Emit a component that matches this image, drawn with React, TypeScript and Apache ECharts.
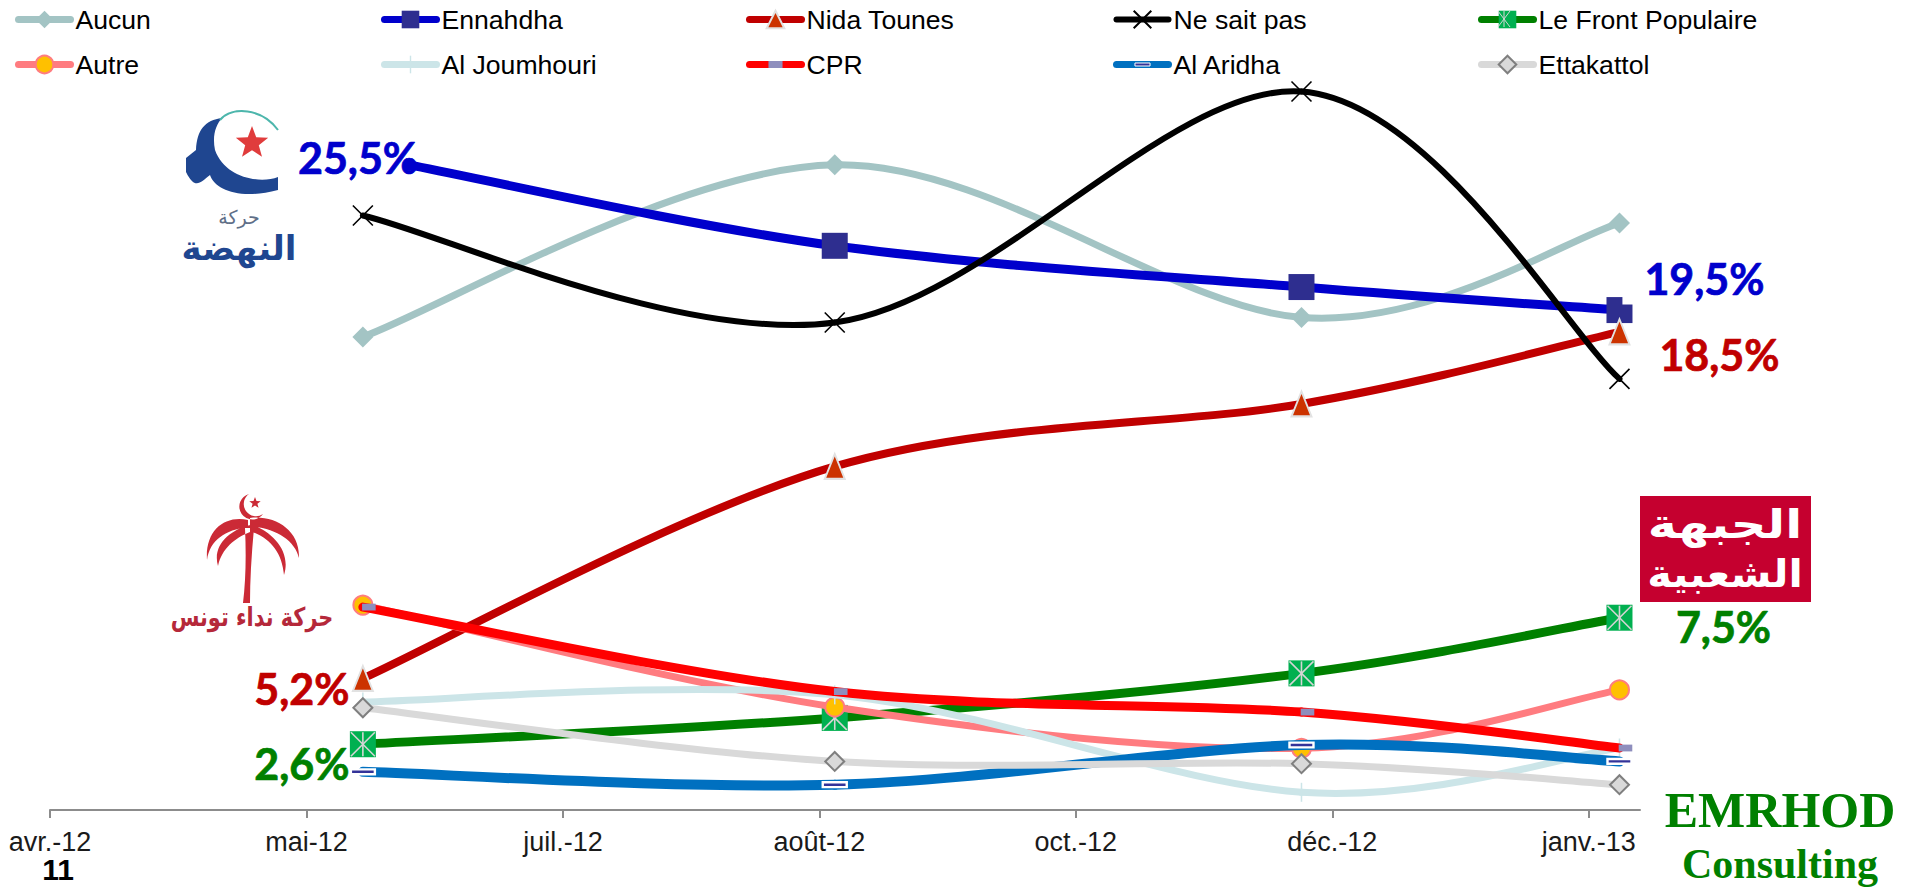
import React, { useEffect, useRef } from "react";
import * as echarts from "echarts";

// x = days since 1 April 2012; the axis ticks are 50 days apart
const tickDays = [0, 50, 100, 150, 200, 250, 300];
const tickLabels = ["avr.-12", "mai-12", "juil.-12", "août-12", "oct.-12", "déc.-12", "janv.-13"];
const surveyDays = [61, 153, 244, 306];
const ennahdhaDays = [70, 153, 244, 306];

const aucun = [18.7, 25.5, 19.47, 23.2];
const ennahdha = [25.5, 22.3, 20.67, 19.76];
const nidaTounes = [5.2, 13.58, 16.05, 18.9];
const neSaitPas = [23.5, 19.27, 28.4, 17.04];
const frontPopulaire = [2.6, 3.64, 5.4, 7.6];
const autre = [8.1, 4.07, 2.44, 4.75];
const alJoumhouri = [4.27, 4.55, 0.7, 2.45];
const cpr = [8.02, 4.68, 3.87, 2.45];
const alAridha = [1.51, 1.0, 2.57, 1.92];
const ettakattol = [4.04, 1.92, 1.83, 1.0];

const ARIAL = "Liberation Sans";
const CALIBRI = "Lato";
const SERIF = "Liberation Serif";
const ARABIC = "DejaVu Sans";

const thinTick = "path://M0 0L0 0M20 20L20 20M9.2 0H10.8V20H9.2Z";
const cprMark = "path://M0 0L0 0M20 20L20 20M2 6H18V14H2Z";
const aridhaMark = "path://M0 0L0 0M28 28L28 28M2 11.6H26V16.4H2Z";
const crossMark = "path://M0 0L20 20M20 0L0 20";

type Def = {
  name: string; days: number[]; vals: number[]; color: string; width: number;
  symbol: string; size: any; item: any; symbolOffset?: number[];
};

const defs: Def[] = [
  { name: "Aucun", days: surveyDays, vals: aucun, color: "#A3C4C4", width: 7, symbol: "diamond", size: 21, item: { color: "#A3C4C4" } },
  { name: "Ennahdha", days: ennahdhaDays, vals: ennahdha, color: "#0000CC", width: 9, symbol: "rect", size: 26, item: { color: "#2E2E8F" } },
  { name: "Nida Tounes", days: surveyDays, vals: nidaTounes, color: "#C00000", width: 8, symbol: "triangle", size: [20, 25], item: { color: "#CC3300", borderColor: "#E2E2E2", borderWidth: 2 } },
  { name: "Ne sait pas", days: surveyDays, vals: neSaitPas, color: "#000000", width: 6, symbol: crossMark, size: 20, item: { color: "none", borderColor: "#000000", borderWidth: 1.6 } },
  { name: "Le Front Populaire", days: surveyDays, vals: frontPopulaire, color: "#008000", width: 9, symbol: "rect", size: 26, item: { color: "#00B050" } },
  { name: "Autre", days: surveyDays, vals: autre, color: "#FF7C80", width: 7, symbol: "circle", size: 19, item: { color: "#FFC000", borderColor: "#FF7C80", borderWidth: 2 } },
  { name: "Al Joumhouri", days: surveyDays, vals: alJoumhouri, color: "#CCE5E8", width: 7, symbol: thinTick, size: 19, item: { color: "#CCE5E8" } },
  { name: "CPR", days: surveyDays, vals: cpr, color: "#FF0000", width: 9, symbol: cprMark, size: 17, item: { color: "#8E8EBD" }, symbolOffset: [6, 0] },
  { name: "Al Aridha", days: surveyDays, vals: alAridha, color: "#0070C0", width: 10, symbol: aridhaMark, size: 28, item: { color: "#333399", borderColor: "#FFFFFF", borderWidth: 2.4 } },
  { name: "Ettakattol", days: surveyDays, vals: ettakattol, color: "#D9D9D9", width: 7, symbol: "diamond", size: 19, item: { color: "#D9D9D9", borderColor: "#7F7F7F", borderWidth: 2 } },
];

// data labels: series, point index, text
const pointLabels: { series: string; index: number; text: string; color: string; offset: number[]; box?: any }[] = [
  { series: "Ennahdha", index: 0, text: "25,5%", color: "#0000CC", offset: [-51, -7] },
  { series: "Ennahdha", index: 3, text: "19,5%", color: "#0000CC", offset: [74, -32], box: { backgroundColor: "#FFFFFF", padding: [0, 0, 10, 22] } },
  { series: "Nida Tounes", index: 0, text: "5,2%", color: "#C00000", offset: [-61, 10] },
  { series: "Nida Tounes", index: 3, text: "18,5%", color: "#C00000", offset: [100, 23] },
  { series: "Le Front Populaire", index: 0, text: "2,6%", color: "#008000", offset: [-61, 19] },
  { series: "Le Front Populaire", index: 3, text: "7,5%", color: "#008000", offset: [104, 9] },
];

const legendColumns = [
  { left: 15, names: ["Aucun", "Autre"] },
  { left: 381, names: ["Ennahdha", "Al Joumhouri"] },
  { left: 746, names: ["Nida Tounes", "CPR"] },
  { left: 1113, names: ["Ne sait pas", "Al Aridha"] },
  { left: 1478, names: ["Le Front Populaire", "Ettakattol"] },
];

const ennahdhaCrescent =
  "M222 118C205 120 197 130 196 150L186 158L186 172C195 190 200 183 210 175C215 190 240 200 278 190L278 177C260 184 225 178 215 150C212 135 216 125 222 118Z";
const nidaaPalm =
  "M243 603Q247 570 245 528L254 528Q250 570 250 603Z" +
  "M248 520C225 515 205 530 207 560C210 540 225 530 248 527Z" +
  "M250 525C230 530 212 545 218 566C222 548 235 538 250 532Z" +
  "M250 518C275 515 300 530 299 558C295 540 275 528 250 526Z" +
  "M250 524C270 530 292 550 284 575C282 552 270 538 250 531Z" +
  "M249 494A13 13 0 1 0 263 514A11 11 0 1 1 249 494Z";

function starPoints(cx: number, cy: number, r: number) {
  const pts: number[][] = [];
  for (let i = 0; i < 10; i++) {
    const a = -Math.PI / 2 + (i * Math.PI) / 5;
    const rr = i % 2 === 0 ? r : r * 0.42;
    pts.push([cx + rr * Math.cos(a), cy + rr * Math.sin(a)]);
  }
  return pts;
}

function legendAsterisk(cx: number, cy: number) {
  const s = { stroke: "#D5D5D5", lineWidth: 1 };
  return [
    { type: "line", z: 100, shape: { x1: cx - 6, y1: cy - 8, x2: cx + 6, y2: cy + 8 }, style: s },
    { type: "line", z: 100, shape: { x1: cx + 6, y1: cy - 8, x2: cx - 6, y2: cy + 8 }, style: s },
    { type: "line", z: 100, shape: { x1: cx, y1: cy - 8, x2: cx, y2: cy + 8 }, style: s },
  ];
}

export default function App() {
  const ref = useRef<HTMLDivElement>(null);
  useEffect(() => {
    document.body.style.margin = "0";
    (echarts.graphic as any).registerShape("ennahdhaCrescent", (echarts.graphic as any).extendPath(ennahdhaCrescent, {}));
    (echarts.graphic as any).registerShape("nidaaPalm", (echarts.graphic as any).extendPath(nidaaPalm, {}));
    const chart = echarts.init(ref.current!, undefined, { renderer: "svg" });

    const series: any[] = [];
    defs.forEach((d, si) => {
      const baseZ = 2 + si * 3;
      const pts = d.days.map((x, i) => [x, d.vals[i]]);
      // Excel-style smoothed curve, drawn through the axes from the same data
      series.push({
        type: "custom",
        name: d.name + " (courbe)",
        coordinateSystem: "cartesian2d",
        silent: true,
        z: baseZ,
        encode: { x: 0, y: 1 },
        data: pts,
        renderItem: (params: any, api: any) => {
          const i = params.dataIndex;
          if (i >= pts.length - 1) return null;
          const p = pts.map((q) => api.coord(q));
          const p0 = p[Math.max(i - 1, 0)], p1 = p[i], p2 = p[i + 1], p3 = p[Math.min(i + 2, p.length - 1)];
          return {
            type: "bezierCurve",
            shape: {
              x1: p1[0], y1: p1[1], x2: p2[0], y2: p2[1],
              cpx1: p1[0] + (p2[0] - p0[0]) / 6, cpy1: p1[1] + (p2[1] - p0[1]) / 6,
              cpx2: p2[0] - (p3[0] - p1[0]) / 6, cpy2: p2[1] - (p3[1] - p1[1]) / 6,
            },
            style: { stroke: d.color, lineWidth: d.width, fill: "none", lineCap: "round" },
          };
        },
      });
      series.push({
        type: "line",
        name: d.name,
        z: baseZ + 1,
        silent: true,
        showAllSymbol: true,
        symbol: d.symbol,
        symbolSize: d.size,
        symbolOffset: d.symbolOffset || [0, 0],
        lineStyle: { opacity: 0, color: d.color, width: d.width },
        itemStyle: d.item,
        emphasis: { disabled: true },
        data: pts.map((q, i) => {
          const pl = pointLabels.find((l) => l.series === d.name && l.index === i);
          const out: any = { value: q };
          if (d.name === "Ennahdha" && i === 0) {
            out.symbol = "circle";
            out.symbolSize = 12;
            out.itemStyle = { color: d.color };
          }
          if (pl) {
            out.label = {
              show: true, position: "inside", offset: pl.offset, formatter: pl.text,
              color: pl.color, fontFamily: CALIBRI, fontWeight: "bold", fontSize: 43,
              textBorderColor: pl.color, textBorderWidth: 0.7,
              align: "center", verticalAlign: "middle", ...(pl.box || {}),
            };
          }
          return out;
        }),
      });
      if (d.name === "Le Front Populaire") {
        series.push({
          type: "custom",
          name: d.name + " (repère)",
          coordinateSystem: "cartesian2d",
          silent: true,
          z: baseZ + 2,
          encode: { x: 0, y: 1 },
          data: pts,
          renderItem: (_: any, api: any) => {
            const c = api.coord([api.value(0), api.value(1)]);
            const st = { stroke: "#D5D5D5", lineWidth: 1.6 };
            const h = 12;
            return {
              type: "group",
              children: [
                { type: "line", shape: { x1: c[0] - h, y1: c[1] - h, x2: c[0] + h, y2: c[1] + h }, style: st },
                { type: "line", shape: { x1: c[0] + h, y1: c[1] - h, x2: c[0] - h, y2: c[1] + h }, style: st },
                { type: "line", shape: { x1: c[0], y1: c[1] - h, x2: c[0], y2: c[1] + h }, style: st },
              ],
            };
          },
        });
      }
    });

    const legends = legendColumns.map((col) => ({
      orient: "vertical",
      left: col.left,
      top: 6,
      padding: 0,
      itemWidth: 52,
      itemHeight: 22,
      itemGap: 18,
      selectedMode: false,
      textStyle: { color: "#000000", fontFamily: ARIAL, fontSize: 26.6, lineHeight: 27 },
      data: col.names.map((n) => {
        const d = defs.find((x) => x.name === n)!;
        const out: any = { name: n, lineStyle: { opacity: 1, color: d.color, width: Math.min(d.width, 7), cap: "round" } };
        if (n === "Al Aridha") out.itemStyle = { borderWidth: 1 };
        return out;
      }),
    }));

    chart.setOption({
      animation: false,
      backgroundColor: "#FFFFFF",
      legend: legends,
      grid: { left: 50, width: 1590, top: 51, bottom: 77 },
      xAxis: {
        type: "value",
        min: 0,
        max: 310,
        splitLine: { show: false },
        axisLine: { show: true, lineStyle: { color: "#8C8C8C", width: 2 } },
        axisTick: { show: true, length: 8, customValues: tickDays, lineStyle: { color: "#8C8C8C", width: 2 } },
        axisLabel: {
          customValues: tickDays,
          margin: 18,
          color: "#1A1A1A",
          fontFamily: ARIAL,
          fontSize: 27,
          formatter: (v: number) => tickLabels[tickDays.indexOf(v)] ?? "",
        },
      },
      yAxis: { type: "value", min: 0, max: 30, show: false, splitLine: { show: false } },
      series,
      graphic: [
        // Ennahdha logo
        { type: "ennahdhaCrescent", style: { fill: "#1F4690" } },
        { type: "bezierCurve", shape: { x1: 220, y1: 120, x2: 278, y2: 130, cpx1: 232, cpy1: 106, cpx2: 262, cpy2: 108 }, style: { stroke: "#4DB6AC", lineWidth: 2, fill: "none" } },
        { type: "polygon", shape: { points: starPoints(252, 143, 17) }, style: { fill: "#E03C3C" } },
        { type: "text", x: 239, y: 217, style: { text: "حركة", fill: "#5F6F88", font: `19px "${ARABIC}"`, align: "center", verticalAlign: "middle" } },
        { type: "text", x: 239, y: 248, style: { text: "النهضة", fill: "#1F4690", font: `bold 34px "${ARABIC}"`, align: "center", verticalAlign: "middle" } },
        // Nidaa Tounes logo
        { type: "nidaaPalm", style: { fill: "#CB2A36" } },
        { type: "polygon", shape: { points: starPoints(255, 503, 6) }, style: { fill: "#CB2A36" } },
        { type: "text", x: 252, y: 617, scaleX: 0.8, style: { text: "حركة نداء تونس", fill: "#B5283A", font: `bold 26px "${ARABIC}"`, align: "center", verticalAlign: "middle" } },
        // Front Populaire logo
        { type: "rect", shape: { x: 1640, y: 496, width: 171, height: 106 }, style: { fill: "#C5002F" } },
        { type: "text", x: 1725, y: 524, scaleX: 1.24, style: { text: "الجبهة", fill: "#FFFFFF", font: `bold 40px "${ARABIC}"`, align: "center", verticalAlign: "middle" } },
        { type: "text", x: 1725, y: 574, scaleX: 1.1, style: { text: "الشعبية", fill: "#FFFFFF", font: `bold 38px "${ARABIC}"`, align: "center", verticalAlign: "middle" } },
        // Legend marker detail
        ...legendAsterisk(1504, 19),
        // Footer
        { type: "text", x: 1780, y: 810, style: { text: "EMRHOD", fill: "#008000", font: `bold 50px "${SERIF}"`, align: "center", verticalAlign: "middle" } },
        { type: "text", x: 1780, y: 864, style: { text: "Consulting", fill: "#008000", font: `bold 42px "${SERIF}"`, align: "center", verticalAlign: "middle" } },
        { type: "text", x: 58, y: 869, style: { text: "11", fill: "#000000", font: `bold 30px "${ARIAL}"`, align: "center", verticalAlign: "middle" } },
      ],
    });
    return () => chart.dispose();
  }, []);
  return <div ref={ref} style={{ position: "absolute", left: 0, top: 0, width: 1915, height: 887 }} />;
}
